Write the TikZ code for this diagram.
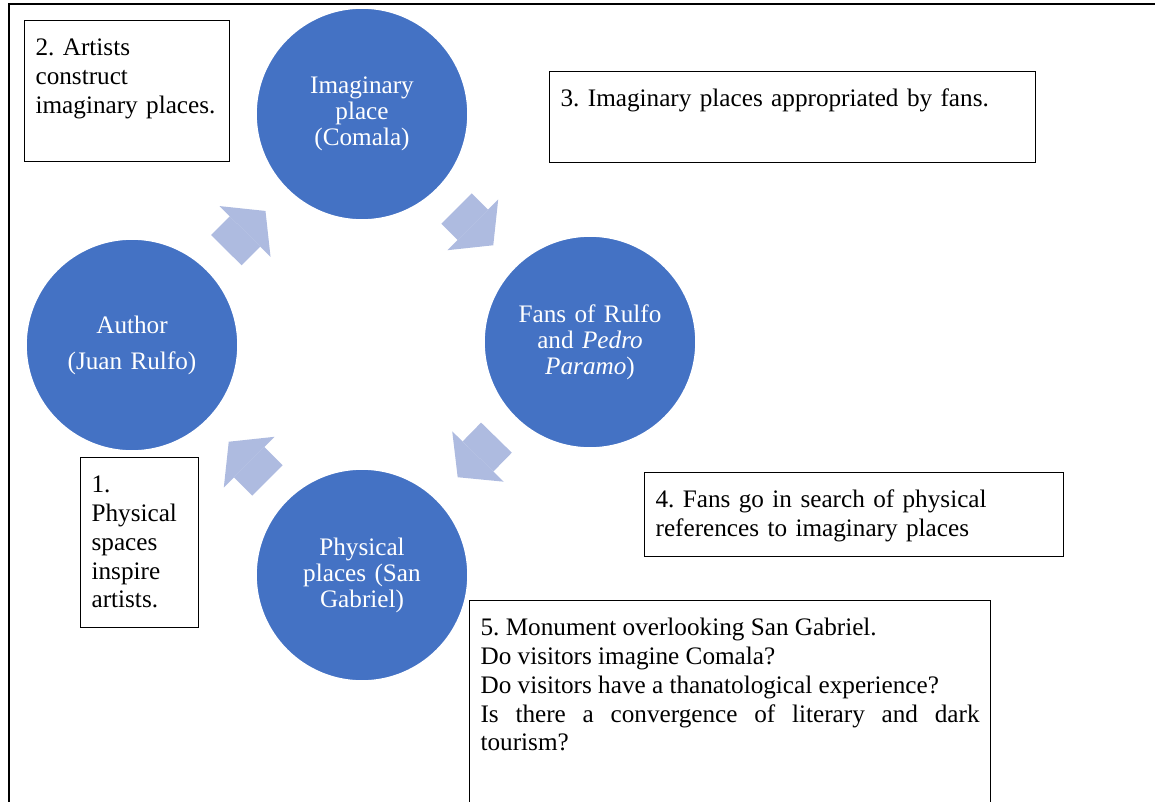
\documentclass[tikz,border=0pt]{standalone}
\usepackage{fontspec}
\setmainfont{Liberation Serif}
\usetikzlibrary{arrows.meta, positioning}
\definecolor{circblue}{HTML}{4472C4}
\definecolor{arrowblue}{RGB}{174,187,224}
\tolerance=9999
\hyphenpenalty=10000
\frenchspacing

\begin{document}
\begin{tikzpicture}[x=0.5pt, y=-0.5pt, font=\fontsize{12.6}{14.4}\selectfont]
    \tikzstyle{place} = [circle, fill=circblue, draw=white, line width=0.8pt, minimum size=106pt, inner sep=0pt, text width=90pt, align=center, text=white, font=\fontsize{12.6}{13}\selectfont]
    \tikzstyle{note} = [rectangle, draw=black, fill=white, line width=0.6pt, anchor=north west, inner xsep=5.5pt, inner ysep=0pt, text height=17.5pt, align=left]
    \tikzstyle{flow} = [arrowblue, line width=21.5pt, -{Triangle[width=36pt, length=14.5pt, line width=0pt]}, shorten <=13.5pt, shorten >=15pt]

    \useasboundingbox (0,0) rectangle (1155,802);
    \clip (0,0) rectangle (1155,802);
    \draw [line width=1pt] (1155,4) -| (9,802);

    % the four places of the cycle
    \node (imag) [place] at (362,114) {Imaginary\\place\\(Comala)};
    \node (fans) [place] at (590,342) {Fans of Rulfo\\and \textit{Pedro}\\\textit{Paramo})};
    \node (phys) [place] at (362,575) {Physical\\places (San\\Gabriel)};
    \node (author) [place] at (132,345) {Author\\[5pt](Juan Rulfo)};

    \draw [flow] (author) -- (imag);
    \draw [flow] (imag) -- (fans);
    \draw [flow] (fans) -- (phys);
    \draw [flow] (phys) -- (author);

    % numbered notes
    \node (note1) [note, text width=48pt, text depth=67.5pt] at (80,457) {1.\\Physical\\spaces\\inspire\\artists.};
    \node (note2) [note, text width=91.5pt, text depth=53pt] at (24,20) {2. Artists\\construct\\imaginary places.};
    \node (note3) [note, text width=232pt, text depth=28pt] at (549,71) {3. Imaginary places appropriated by fans.};
    \node (note4) [note, text width=198.5pt, text depth=24.5pt] at (644,472) {4. Fans go in search of physical\\references to imaginary places};
    \node (note5) [note, text width=249.5pt, text depth=90pt, align=justify] at (469,600) {5. Monument overlooking San Gabriel.\\Do visitors imagine Comala?\\Do visitors have a thanatological experience?\\Is there a convergence of literary and dark tourism?};
\end{tikzpicture}
\end{document}
